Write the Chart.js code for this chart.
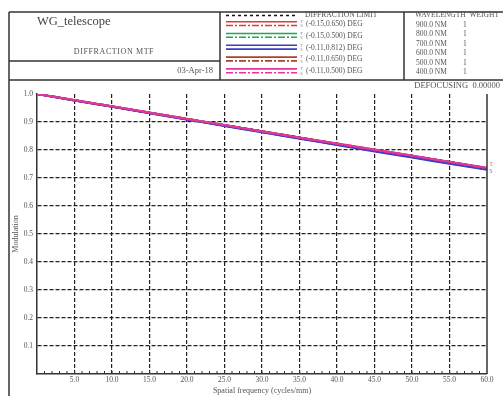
<!DOCTYPE html>
<html>
<head>
<meta charset="utf-8">
<title>WG_telescope – Diffraction MTF</title>
<script src="https://cdn.jsdelivr.net/npm/chart.js@4.4.1/dist/chart.umd.min.js"></script>
<style>
  html, body { margin: 0; padding: 0; background: #fff; }
  canvas { display: block; }
</style>
</head>
<body>
<canvas id="mtf" width="503" height="396"></canvas>
<script>
// ---- Data -------------------------------------------------------------
const frequencies = [0, 5, 10, 15, 20, 25, 30, 35, 40, 45, 50, 55, 60]; // cycles/mm

const diffractionLimit = [1.000, 0.978, 0.956, 0.934, 0.912, 0.890, 0.868, 0.846, 0.824, 0.802, 0.780, 0.759, 0.737];

// field (-0.15, 0.650) DEG
const tanField1 = [1.000, 0.978, 0.955, 0.933, 0.910, 0.888, 0.865, 0.843, 0.821, 0.799, 0.777, 0.755, 0.733];
const sagField1 = [1.000, 0.978, 0.955, 0.933, 0.911, 0.888, 0.866, 0.844, 0.822, 0.800, 0.778, 0.756, 0.734];
// field (-0.15, 0.500) DEG
const tanField2 = [1.000, 0.977, 0.955, 0.932, 0.910, 0.887, 0.865, 0.842, 0.820, 0.798, 0.776, 0.754, 0.732];
const sagField2 = [1.000, 0.978, 0.955, 0.933, 0.910, 0.888, 0.866, 0.843, 0.821, 0.799, 0.777, 0.755, 0.733];
// field (-0.11, 0.812) DEG
const tanField3 = [1.000, 0.977, 0.954, 0.931, 0.909, 0.886, 0.863, 0.840, 0.818, 0.795, 0.773, 0.751, 0.729];
const sagField3 = [1.000, 0.977, 0.955, 0.932, 0.909, 0.887, 0.864, 0.842, 0.819, 0.797, 0.775, 0.753, 0.731];
// field (-0.11, 0.650) DEG
const tanField4 = [1.000, 0.978, 0.956, 0.933, 0.911, 0.888, 0.866, 0.844, 0.822, 0.800, 0.778, 0.756, 0.735];
const sagField4 = [1.000, 0.978, 0.956, 0.934, 0.911, 0.889, 0.867, 0.845, 0.823, 0.801, 0.779, 0.757, 0.736];
// field (-0.11, 0.500) DEG
const tanField5 = [1.000, 0.978, 0.956, 0.934, 0.911, 0.889, 0.867, 0.845, 0.823, 0.802, 0.780, 0.758, 0.737];
const sagField5 = [1.000, 0.978, 0.956, 0.933, 0.911, 0.889, 0.866, 0.844, 0.822, 0.800, 0.779, 0.757, 0.735];

const fieldLabels = ['(-0.15,0.650) DEG', '(-0.15,0.500) DEG', '(-0.11,0.812) DEG', '(-0.11,0.650) DEG', '(-0.11,0.500) DEG'];
const wavelengths = ['900.0 NM', '800.0 NM', '700.0 NM', '600.0 NM', '500.0 NM', '400.0 NM'];
const weights = ['1', '1', '1', '1', '1', '1'];

const titleText = 'WG_telescope';
const subtitleText = 'DIFFRACTION MTF';
const dateText = '03-Apr-18';
const defocusText = 'DEFOCUSING  0.00000';
const diffractionLabel = 'DIFFRACTION LIMIT';
const wavelengthHeader = 'WAVELENGTH  WEIGHT';
const xTitle = 'Spatial frequency (cycles/mm)';
const yTitle = 'Modulation';

// ---- Styles -----------------------------------------------------------
const serif = '"Liberation Serif", "DejaVu Serif", serif';
const inkColor = '#333';
const textColor = '#555';
const gridColor = '#222';
const fieldColors = ['#e03a3a', '#1fa85a', '#3b3fc4', '#a8442a', '#e5379a'];
const solidDash = [];
const sagDash = [7, 2, 2, 2];

const tanSeries = [tanField1, tanField2, tanField3, tanField4, tanField5];
const sagSeries = [sagField1, sagField2, sagField3, sagField4, sagField5];
// draw order: the last field lies on top of the others, blue right under it
const fieldOrder = [4, 5, 3, 6, 1];

const toPoints = (ys) => ys.map((y, i) => ({ x: frequencies[i], y }));

const datasets = [{
  label: diffractionLabel,
  data: toPoints(diffractionLimit),
  borderColor: '#111',
  borderDash: [3, 3],
  borderWidth: 1.5,
  order: 9
}];
fieldLabels.forEach((lab, i) => {
  datasets.push({
    label: lab + ' T',
    data: toPoints(tanSeries[i]),
    borderColor: fieldColors[i],
    borderDash: solidDash,
    borderWidth: 2,
    order: fieldOrder[i] * 2 - 1
  });
  datasets.push({
    label: lab + ' S',
    data: toPoints(sagSeries[i]),
    borderColor: fieldColors[i],
    borderDash: i === 2 ? solidDash : sagDash,
    borderWidth: 2,
    order: fieldOrder[i] * 2
  });
});

// ---- Page furniture: frame, title block, legend, wavelength table -------
function text(ctx, s, x, y, size, align, color, spacing) {
  ctx.save();
  ctx.font = size + 'px ' + serif;
  ctx.fillStyle = color || textColor;
  ctx.textAlign = align || 'left';
  ctx.textBaseline = 'middle';
  if (spacing && 'letterSpacing' in ctx) ctx.letterSpacing = spacing + 'px';
  ctx.fillText(s, x, y);
  ctx.restore();
}
function line(ctx, x1, y1, x2, y2, color, width, dash) {
  ctx.save();
  ctx.strokeStyle = color;
  ctx.lineWidth = width;
  ctx.setLineDash(dash || []);
  ctx.beginPath();
  ctx.moveTo(x1, y1);
  ctx.lineTo(x2, y2);
  ctx.stroke();
  ctx.restore();
}

const furniture = {
  id: 'furniture',
  beforeDraw(chart) {
    const ctx = chart.ctx;
    ctx.save();
    ctx.fillStyle = '#fff';
    ctx.fillRect(0, 0, chart.width, chart.height);
    ctx.restore();
  },
  afterDraw(chart) {
    const ctx = chart.ctx;
    const area = chart.chartArea;
    const xs = chart.scales.x;
    const ys = chart.scales.y;

    // outer frame and title block
    line(ctx, 9, 12, 503, 12, inkColor, 1.5);
    line(ctx, 9, 80, 503, 80, inkColor, 1.5);
    line(ctx, 9, 12, 9, 396, inkColor, 1.5);
    line(ctx, 220, 12, 220, 80, inkColor, 1.5);
    line(ctx, 404, 12, 404, 80, inkColor, 1.5);
    line(ctx, 9, 61, 220, 61, inkColor, 1.5);

    text(ctx, titleText, 37, 22, 12.5, 'left', '#444');
    text(ctx, subtitleText, 114, 52, 8, 'center', textColor, 0.6);
    text(ctx, dateText, 213, 71, 8.5, 'right', textColor);

    // legend, styled from the datasets themselves
    const ds = chart.data.datasets;
    line(ctx, 226, 15.5, 297, 15.5, ds[0].borderColor, 1.5, ds[0].borderDash);
    text(ctx, diffractionLabel, 305, 15, 7.5, 'left', textColor);
    fieldLabels.forEach((lab, i) => {
      const y = 24 + i * 11.8;
      const t = ds[1 + i * 2], s = ds[2 + i * 2];
      line(ctx, 226, y - 2.3, 297, y - 2.3, t.borderColor, 1.6, t.borderDash);
      line(ctx, 226, y + 1.5, 297, y + 1.5, s.borderColor, 1.6, s.borderDash);
      text(ctx, 'T', 301.5, y - 2.2, 4.5, 'center', '#888');
      text(ctx, 'S', 301.5, y + 2.2, 4.5, 'center', '#888');
      text(ctx, lab, 306, y, 7.5, 'left', textColor);
    });

    // wavelength / weight table
    text(ctx, wavelengthHeader, 415, 15, 7.5, 'left', textColor);
    wavelengths.forEach((w, i) => {
      const y = 25 + i * 9.5;
      text(ctx, w, 416, y, 7.5, 'left', textColor);
      text(ctx, weights[i], 463, y, 7.5, 'left', textColor);
    });

    text(ctx, defocusText, 500, 86, 8.5, 'right', textColor);

    // right edge of the plot box
    line(ctx, area.right, area.top, area.right, area.bottom, inkColor, 1.5);

    // minor ticks on the frequency axis, one per cycle/mm
    for (let v = xs.min + 1; v < xs.max; v += 1) {
      const px = xs.getPixelForValue(v);
      line(ctx, px, area.bottom, px, area.bottom - 3, inkColor, 1);
    }

    // T / S tags at the end of the curves
    const last = frequencies.length - 1;
    const xEnd = xs.getPixelForValue(frequencies[last]);
    const yEnd = ys.getPixelForValue(tanField5[last]);
    text(ctx, 'T', xEnd + 4, yEnd - 3, 6, 'center', '#c86a9e');
    text(ctx, 'S', xEnd + 4, yEnd + 4, 6, 'center', '#8a6aa0');
  }
};

// ---- Chart --------------------------------------------------------------
const tickFont = { family: serif, size: 7.5 };

new Chart(document.getElementById('mtf'), {
  type: 'line',
  data: { datasets },
  options: {
    responsive: false,
    animation: false,
    devicePixelRatio: 1,
    layout: { padding: { top: 94, right: 16, left: 0, bottom: 0 } },
    plugins: { legend: { display: false }, tooltip: { enabled: false } },
    elements: { point: { radius: 0 }, line: { tension: 0.3 } },
    scales: {
      x: {
        type: 'linear',
        min: 0, max: 60,
        afterFit(scale) { scale.height = 22; },
        ticks: {
          stepSize: 1,
          autoSkip: false,
          maxRotation: 0,
          padding: 2,
          font: tickFont,
          color: textColor,
          callback: (v) => (v > 0 && v % 5 === 0) ? Number(v).toFixed(1) : ''
        },
        grid: {
          drawTicks: false,
          lineWidth: 1.2,
          color: (c) => (c.tick && c.tick.value > 0 && c.tick.value < 60 && c.tick.value % 5 === 0) ? gridColor : 'transparent'
        },
        border: { display: true, color: inkColor, width: 1.5, dash: [4, 2] },
        title: { display: true, text: xTitle, font: { family: serif, size: 8 }, color: textColor, padding: { top: 0, bottom: 0 } }
      },
      y: {
        type: 'linear',
        min: 0, max: 1,
        afterFit(scale) { scale.width = 37; },
        ticks: {
          stepSize: 0.1,
          padding: 4,
          font: tickFont,
          color: textColor,
          callback: (v) => v > 0.05 ? Number(v).toFixed(1) : ''
        },
        grid: {
          drawTicks: false,
          lineWidth: 1.2,
          color: (c) => (c.tick && c.tick.value > 0.05 && c.tick.value < 0.95) ? gridColor : 'transparent'
        },
        border: { display: true, color: inkColor, width: 1.5, dash: [4, 2] },
        title: { display: true, text: yTitle, font: { family: serif, size: 8 }, color: textColor, padding: { top: 11, bottom: 0 } }
      }
    }
  },
  plugins: [furniture]
});
</script>
</body>
</html>
